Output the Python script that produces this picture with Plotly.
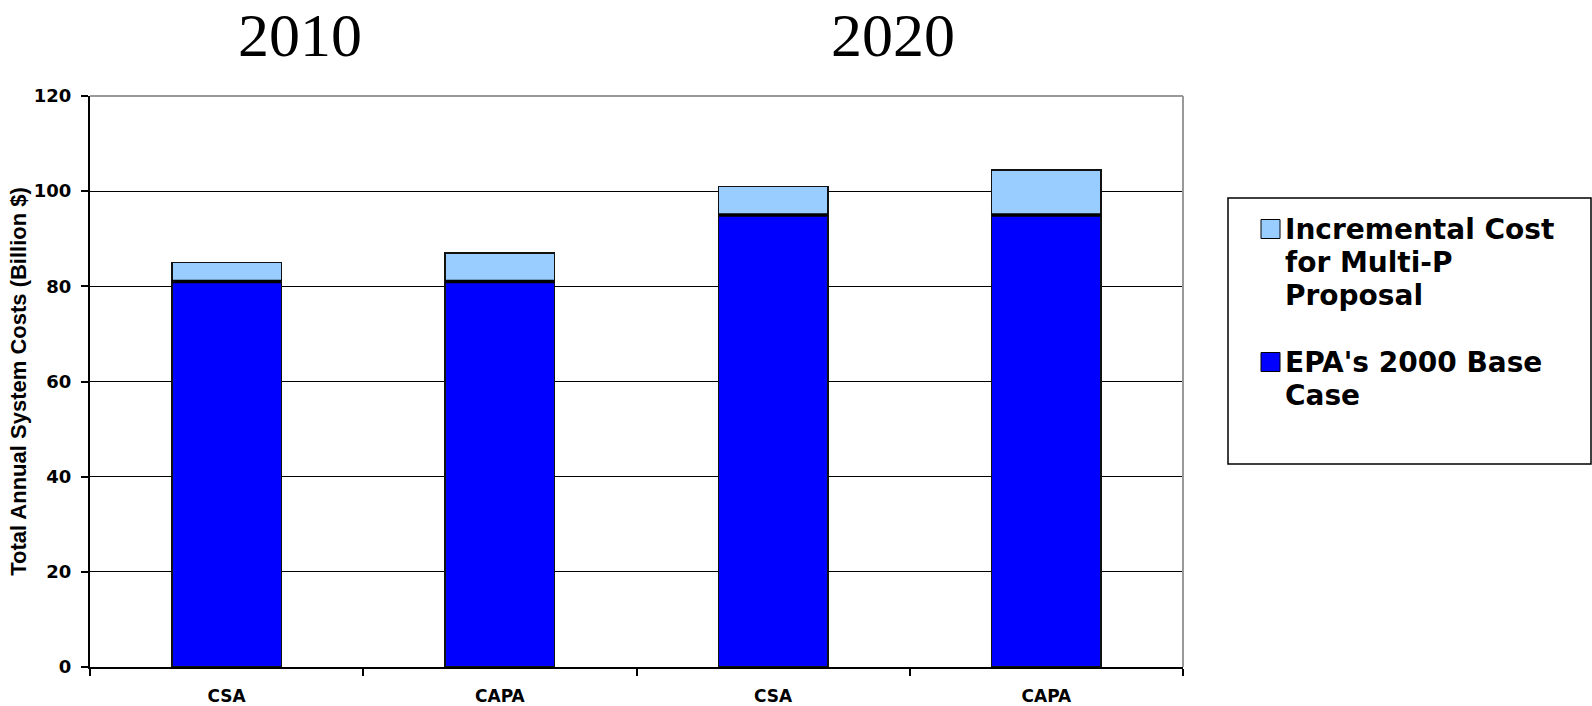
import plotly.graph_objects as go

categories = ["CSA", "CAPA", "CSA", "CAPA"]
years = ["2010", "2020"]
base_case = [81, 81, 95, 95]
incremental = [4, 6, 6, 9.5]
series_names = ["EPA's 2000 Base Case", "Incremental Cost for Multi-P Proposal"]
legend_lines = [["Incremental Cost", "for Multi-P", "Proposal"], ["EPA's 2000 Base", "Case"]]
y_ticks = [0, 20, 40, 60, 80, 100, 120]

x = list(range(len(categories)))
bar_w = 0.4

fig = go.Figure()
fig.add_trace(go.Bar(x=x, y=base_case, name=series_names[0], width=bar_w,
                     marker=dict(color="#0000FF", line=dict(color="#111111", width=1.5)),
                     showlegend=False))
fig.add_trace(go.Bar(x=x, y=incremental, name=series_names[1], width=bar_w,
                     marker=dict(color="#99CCFF", line=dict(color="#111111", width=1.5)),
                     showlegend=False))

# thick separator between the stacked segments (at the top of the base segment)
for xi, b in zip(x, base_case):
    fig.add_shape(type="line", xref="x", yref="y", x0=xi - bar_w / 2, x1=xi + bar_w / 2,
                  y0=b, y1=b, line=dict(color="black", width=3.5))

L, R, T, B = 90, 409, 96, 39
W, H = 1592, 706
pw, ph = W - L - R, H - T - B

def px(v):
    return (v - L) / pw

def py(v):
    return (H - B - v) / ph

fig.update_layout(
    barmode="stack",
    width=W, height=H,
    margin=dict(l=L, r=R, t=T, b=B, autoexpand=False),
    paper_bgcolor="white", plot_bgcolor="white",
    font=dict(family="DejaVu Sans", color="black"),
    xaxis=dict(range=[-0.5, len(categories) - 0.5], tickvals=x, ticktext=categories,
               ticks="", showline=True, linecolor="black", linewidth=2,
               showgrid=False, zeroline=False, automargin=False,
               tickfont=dict(family="DejaVu Sans", size=17, color="black", weight="bold"),
               ticklabelstandoff=13,
               minor=dict(tickvals=[i - 0.5 for i in range(len(categories) + 1)],
                          ticks="outside", ticklen=7, tickcolor="black", tickwidth=2,
                          showgrid=False)),
    yaxis=dict(range=[0, 120], tickvals=y_ticks, ticks="outside", ticklen=7,
               tickcolor="black", tickwidth=1.5, automargin=False,
               showline=True, linecolor="black", linewidth=2,
               showgrid=True, gridcolor="black", gridwidth=1, zeroline=False,
               tickfont=dict(family="DejaVu Sans", size=18, color="black", weight="bold"),
               ticklabelstandoff=6,
               title=dict(text="Total Annual System Costs (Billion $)",
                          font=dict(family="Liberation Sans", size=22, color="black", weight="bold"),
                          standoff=1)),
)

# grey top and right frame
fig.add_shape(type="line", xref="paper", yref="paper", x0=0, x1=1, y0=1, y1=1,
              line=dict(color="#999999", width=2))
fig.add_shape(type="line", xref="paper", yref="paper", x0=1, x1=1, y0=0, y1=1,
              line=dict(color="#999999", width=2))

# year labels
year_x = [0.27, 2.44]
for yr, xx in zip(years, year_x):
    fig.add_annotation(text=yr, x=xx, xref="x", y=py(35), yref="paper",
                       showarrow=False, xanchor="center", yanchor="middle",
                       font=dict(family="Liberation Serif", size=62, color="black"))

# legend box
fig.add_shape(type="rect", xref="paper", yref="paper",
              x0=px(1228), x1=px(1591), y0=py(464), y1=py(198),
              line=dict(color="black", width=1.5), fillcolor="white")
legend_colors = ["#99CCFF", "#0000FF"]
legend_line_y = [[229, 262, 295], [362, 395]]
for color, lines, ys in zip(legend_colors, legend_lines, legend_line_y):
    sq_c = ys[0]
    fig.add_shape(type="rect", xref="paper", yref="paper",
                  x0=px(1261), x1=px(1280), y0=py(sq_c + 9.5), y1=py(sq_c - 9.5),
                  line=dict(color="black", width=1), fillcolor=color)
    for line, yy in zip(lines, ys):
        fig.add_annotation(text=line, x=px(1283), xref="paper", y=py(yy), yref="paper",
                           showarrow=False, xanchor="left", yanchor="middle", align="left",
                           font=dict(family="DejaVu Sans", size=28, color="black", weight="bold"))

fig.write_html("out.html")
